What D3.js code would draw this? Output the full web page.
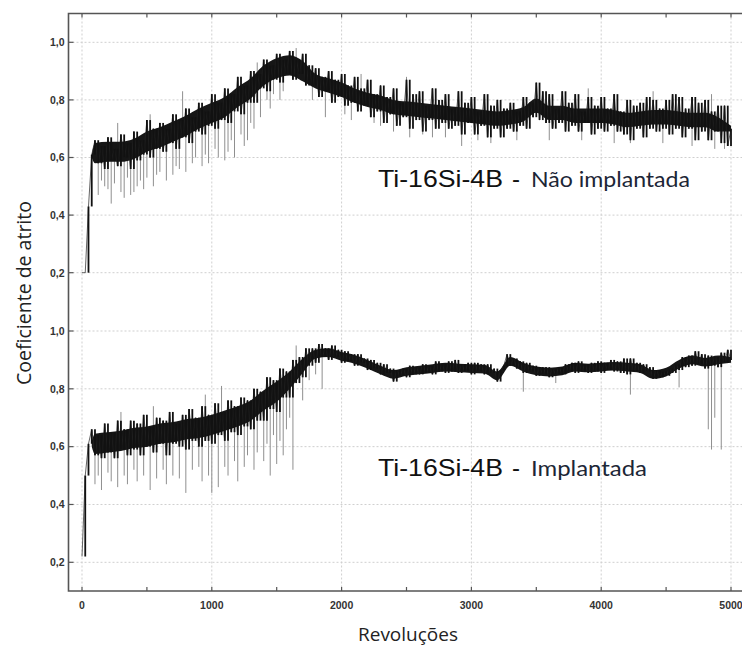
<!DOCTYPE html>
<html>
<head>
<meta charset="utf-8">
<script src="https://cdn.jsdelivr.net/npm/d3@7"></script>
<style>
  body { margin: 0; background: #fff; }
  .tick-label { font-family: 'Liberation Sans', Arial, sans-serif; font-weight: bold; font-size: 10.5px; fill: #333; }
</style>
</head>
<body>
<div id="chart"></div>
<script>

// trace sampled every 25 revolutions, 0..5000
var revStep = 25;

var naoImplantada = [
  0.20, 0.20, 0.43, 0.61, 0.66, 0.58, 0.64, 0.56,
  0.67, 0.59, 0.63, 0.57, 0.68, 0.60, 0.65, 0.56,
  0.69, 0.59, 0.66, 0.61, 0.73, 0.60, 0.70, 0.63,
  0.72, 0.62, 0.70, 0.65, 0.75, 0.63, 0.73, 0.67,
  0.77, 0.65, 0.74, 0.69, 0.79, 0.68, 0.76, 0.71,
  0.82, 0.70, 0.79, 0.73, 0.84, 0.72, 0.82, 0.76,
  0.88, 0.75, 0.85, 0.79, 0.90, 0.79, 0.89, 0.84,
  0.94, 0.83, 0.92, 0.87, 0.96, 0.86, 0.94, 0.89,
  0.97, 0.87, 0.94, 0.89, 0.96, 0.85, 0.92, 0.85,
  0.91, 0.81, 0.88, 0.83, 0.90, 0.79, 0.87, 0.81,
  0.89, 0.78, 0.85, 0.79, 0.88, 0.76, 0.84, 0.78,
  0.87, 0.74, 0.82, 0.76, 0.85, 0.72, 0.81, 0.75,
  0.84, 0.71, 0.79, 0.74, 0.87, 0.70, 0.82, 0.73,
  0.83, 0.69, 0.78, 0.73, 0.84, 0.70, 0.80, 0.72,
  0.82, 0.70, 0.77, 0.71, 0.83, 0.68, 0.79, 0.72,
  0.81, 0.68, 0.76, 0.71, 0.82, 0.67, 0.78, 0.70,
  0.80, 0.67, 0.77, 0.70, 0.79, 0.69, 0.76, 0.71,
  0.81, 0.70, 0.79, 0.74, 0.86, 0.73, 0.83, 0.72,
  0.82, 0.70, 0.77, 0.72, 0.83, 0.69, 0.79, 0.71,
  0.82, 0.69, 0.76, 0.72, 0.81, 0.68, 0.78, 0.70,
  0.81, 0.69, 0.77, 0.71, 0.82, 0.69, 0.76, 0.68,
  0.80, 0.66, 0.78, 0.70, 0.79, 0.67, 0.81, 0.70,
  0.80, 0.69, 0.77, 0.70, 0.80, 0.68, 0.82, 0.70,
  0.81, 0.67, 0.77, 0.70, 0.81, 0.66, 0.79, 0.69,
  0.80, 0.66, 0.76, 0.69, 0.78, 0.65, 0.78, 0.64,
  0.70
];

var implantada = [
  0.22, 0.50, 0.61, 0.66, 0.57, 0.64, 0.56, 0.68,
  0.58, 0.65, 0.56, 0.69, 0.59, 0.66, 0.57, 0.69,
  0.59, 0.68, 0.57, 0.71, 0.60, 0.67, 0.58, 0.70,
  0.61, 0.69, 0.57, 0.72, 0.61, 0.68, 0.60, 0.71,
  0.59, 0.73, 0.62, 0.70, 0.60, 0.74, 0.62, 0.71,
  0.61, 0.75, 0.64, 0.72, 0.62, 0.76, 0.65, 0.74,
  0.64, 0.77, 0.67, 0.76, 0.66, 0.80, 0.69, 0.79,
  0.69, 0.84, 0.73, 0.83, 0.72, 0.87, 0.77, 0.86,
  0.77, 0.90, 0.82, 0.91, 0.84, 0.94, 0.88, 0.94,
  0.89, 0.955, 0.91, 0.94, 0.90, 0.95, 0.91, 0.935,
  0.89, 0.93, 0.895, 0.92, 0.88, 0.92, 0.89, 0.905,
  0.865, 0.90, 0.87, 0.89, 0.85, 0.885, 0.855, 0.87,
  0.825, 0.865, 0.845, 0.87, 0.84, 0.88, 0.85, 0.875,
  0.85, 0.885, 0.855, 0.88, 0.85, 0.895, 0.86, 0.885,
  0.855, 0.895, 0.86, 0.90, 0.855, 0.885, 0.86, 0.89,
  0.85, 0.89, 0.86, 0.885, 0.85, 0.885, 0.855, 0.87,
  0.825, 0.865, 0.88, 0.92, 0.88, 0.905, 0.87, 0.895,
  0.855, 0.89, 0.86, 0.88, 0.845, 0.875, 0.85, 0.875,
  0.84, 0.87, 0.85, 0.875, 0.85, 0.885, 0.86, 0.89,
  0.855, 0.895, 0.86, 0.885, 0.855, 0.89, 0.86, 0.895,
  0.855, 0.89, 0.865, 0.90, 0.86, 0.895, 0.855, 0.905,
  0.85, 0.905, 0.86, 0.89, 0.855, 0.885, 0.86, 0.875,
  0.835, 0.865, 0.84, 0.86, 0.845, 0.87, 0.855, 0.885,
  0.865, 0.91, 0.875, 0.915, 0.88, 0.93, 0.885, 0.92,
  0.87, 0.915, 0.88, 0.91, 0.875, 0.925, 0.89, 0.935,
  0.90
];

// dense dark core of the trace, every 100 revolutions (first point at 75)
var bandRevs = [75, 100, 200, 300, 400, 500, 600, 700, 800, 900, 1000,
  1100, 1200, 1300, 1400, 1500, 1600, 1700, 1800, 1900, 2000,
  2100, 2200, 2300, 2400, 2500, 2600, 2700, 2800, 2900, 3000,
  3100, 3200, 3300, 3400, 3500, 3600, 3700, 3800, 3900, 4000,
  4100, 4200, 4300, 4400, 4500, 4600, 4700, 4800, 4900, 5000];

var naoBandHi = [0.61, 0.65, 0.655, 0.655, 0.665, 0.69, 0.705, 0.725, 0.745, 0.77, 0.79,
  0.81, 0.845, 0.875, 0.92, 0.945, 0.955, 0.935, 0.89, 0.875, 0.86,
  0.84, 0.825, 0.815, 0.80, 0.795, 0.79, 0.785, 0.78, 0.775, 0.77,
  0.765, 0.76, 0.765, 0.775, 0.805, 0.78, 0.78, 0.77, 0.77, 0.77,
  0.765, 0.755, 0.76, 0.765, 0.765, 0.76, 0.755, 0.755, 0.74, 0.71];
var naoBandLo = [0.60, 0.58, 0.585, 0.585, 0.595, 0.62, 0.635, 0.655, 0.675, 0.70, 0.72,
  0.74, 0.775, 0.805, 0.85, 0.875, 0.885, 0.865, 0.84, 0.825, 0.81,
  0.79, 0.775, 0.765, 0.75, 0.745, 0.74, 0.735, 0.73, 0.725, 0.72,
  0.715, 0.71, 0.715, 0.725, 0.755, 0.73, 0.73, 0.72, 0.72, 0.72,
  0.715, 0.705, 0.71, 0.715, 0.715, 0.71, 0.705, 0.705, 0.69, 0.69];

var impBandHi = [0.62, 0.645, 0.65, 0.655, 0.665, 0.67, 0.68, 0.685, 0.695, 0.70, 0.71,
  0.725, 0.74, 0.76, 0.795, 0.825, 0.86, 0.905, 0.935, 0.94, 0.927,
  0.917, 0.90, 0.88, 0.865, 0.875, 0.88, 0.885, 0.89, 0.887, 0.885,
  0.883, 0.86, 0.91, 0.89, 0.877, 0.873, 0.877, 0.89, 0.887, 0.89,
  0.893, 0.89, 0.885, 0.865, 0.873, 0.90, 0.915, 0.907, 0.915, 0.91];
var impBandLo = [0.60, 0.575, 0.58, 0.585, 0.595, 0.60, 0.61, 0.615, 0.625, 0.63, 0.64,
  0.655, 0.67, 0.69, 0.725, 0.755, 0.80, 0.855, 0.905, 0.91, 0.897,
  0.887, 0.87, 0.85, 0.835, 0.845, 0.85, 0.855, 0.86, 0.857, 0.855,
  0.853, 0.83, 0.88, 0.86, 0.847, 0.843, 0.847, 0.86, 0.857, 0.86,
  0.863, 0.86, 0.855, 0.835, 0.843, 0.87, 0.885, 0.877, 0.885, 0.89];

// thin grey excursions [revolution, coefficient]
var naoSpikes = [
  [125, 0.47], [175, 0.50], [225, 0.44], [300, 0.48], [325, 0.46], [375, 0.47], [425, 0.50],
  [475, 0.49], [550, 0.50], [600, 0.55], [700, 0.54], [750, 0.56], [850, 0.58], [925, 0.57],
  [975, 0.58], [1050, 0.60], [1125, 0.62], [1175, 0.60], [1275, 0.66], [1325, 0.70],
  [1375, 0.74], [1450, 0.77], [1525, 0.80], [1875, 0.74], [2075, 0.73], [2300, 0.71],
  [2525, 0.67], [2700, 0.67], [2925, 0.64], [3150, 0.65], [3600, 0.66], [4225, 0.65],
  [4700, 0.64], [4950, 0.63],
  [150, 0.52], [200, 0.49], [250, 0.51], [350, 0.53], [400, 0.48], [450, 0.52], [500, 0.53],
  [575, 0.54], [650, 0.52], [725, 0.57], [800, 0.55], [875, 0.60], [950, 0.61], [1025, 0.63],
  [1100, 0.59], [1150, 0.66], [1225, 0.68], [1250, 0.64], [1300, 0.72], [1425, 0.80],
  [1475, 0.82], [1550, 0.83], [1775, 0.80], [2025, 0.75], [2250, 0.72], [2400, 0.69],
  [2625, 0.68], [2800, 0.67], [3050, 0.66], [3350, 0.66], [3850, 0.66], [4100, 0.65],
  [4475, 0.65], [4875, 0.63],
  [275, 0.72], [525, 0.75], [775, 0.83], [1200, 0.88], [1350, 0.93], [1650, 0.98],
  [2150, 0.89], [2500, 0.88], [3500, 0.86], [3900, 0.84], [4400, 0.83], [4850, 0.82]
];

var impSpikes = [
  [100, 0.47], [150, 0.45], [225, 0.48], [275, 0.46], [350, 0.47], [425, 0.48], [525, 0.45],
  [575, 0.49], [650, 0.47], [700, 0.50], [800, 0.44], [850, 0.52], [925, 0.48], [1000, 0.44],
  [1050, 0.46], [1125, 0.50], [1200, 0.48], [1250, 0.53], [1325, 0.52], [1400, 0.55],
  [1450, 0.50], [1500, 0.54], [1550, 0.57], [1625, 0.52], [1700, 0.76], [1850, 0.80],
  [3400, 0.79], [3650, 0.82], [4225, 0.78], [4600, 0.805], [4825, 0.66], [4850, 0.59],
  [4875, 0.70], [4925, 0.59],
  [125, 0.50], [200, 0.51], [325, 0.50], [400, 0.52], [475, 0.50], [625, 0.52], [750, 0.49],
  [900, 0.53], [975, 0.50], [1100, 0.53], [1175, 0.55], [1275, 0.57], [1350, 0.58],
  [1425, 0.61], [1475, 0.64], [1525, 0.62], [1575, 0.66], [1600, 0.70], [1750, 0.83],
  [1800, 0.85],
  [300, 0.72], [550, 0.74], [950, 0.78], [1075, 0.81], [1650, 0.95]
];

var yTicks = [0.2, 0.4, 0.6, 0.8, 1.0];
var xTicks = [0, 1000, 2000, 3000, 4000, 5000];
var xMinorTicks = [0, 500, 1000, 1500, 2000, 2500, 3000, 3500, 4000, 4500, 5000];

var width = 742, height = 650;
var frameLeft = 68.5, frameTop = 13.5, frameBottom = 591;

var svg = d3.select('#chart').append('svg')
  .attr('width', width)
  .attr('height', height);

var x = d3.scaleLinear().domain([0, 5000]).range([82, 731]);

var panels = [
  { data: naoImplantada, hi: naoBandHi, lo: naoBandLo, spikes: naoSpikes,
    y: d3.scaleLinear().domain([0.2, 1.0]).range([272.7, 42.3]),
    label: 'Não implantada', labelY: 187, subLen: 159 },
  { data: implantada, hi: impBandHi, lo: impBandLo, spikes: impSpikes,
    y: d3.scaleLinear().domain([0.2, 1.0]).range([562.3, 331]),
    label: 'Implantada', labelY: 475.5, subLen: 116 }
];

// grid
var grid = svg.append('g');
xTicks.forEach(function(t) {
  grid.append('line')
    .attr('x1', x(t)).attr('x2', x(t))
    .attr('y1', frameTop).attr('y2', frameBottom)
    .style('stroke', '#cfcfcf').style('stroke-width', 1).style('stroke-dasharray', '2,2');
});
panels.forEach(function(p) {
  yTicks.forEach(function(t) {
    grid.append('line')
      .attr('x1', frameLeft).attr('x2', width)
      .attr('y1', p.y(t)).attr('y2', p.y(t))
      .style('stroke', '#cfcfcf').style('stroke-width', 1).style('stroke-dasharray', '2,2');
  });
});

// curves
panels.forEach(function(p) {
  var g = svg.append('g');

  g.selectAll('.spike')
    .data(p.spikes)
    .enter().append('line')
      .attr('class', 'spike')
      .attr('x1', function(d) { return x(d[0]); })
      .attr('x2', function(d) { return x(d[0]); })
      .attr('y1', function(d) { return p.y(p.data[Math.round(d[0] / revStep)]); })
      .attr('y2', function(d) { return p.y(d[1]); })
      .style('stroke', '#8f8f8f')
      .style('stroke-width', 1);

  var band = d3.area()
    .x(function(d, i) { return x(bandRevs[i]); })
    .y0(function(d, i) { return p.y(p.lo[i]); })
    .y1(function(d) { return p.y(d); })
    .curve(d3.curveMonotoneX);

  g.append('path')
    .datum(p.hi)
    .attr('d', band)
    .style('fill', '#161616');

  var line = d3.line()
    .x(function(d, i) { return x(i * revStep); })
    .y(function(d) { return p.y(d); });

  g.append('path')
    .datum(p.data)
    .attr('d', line)
    .style('fill', 'none')
    .style('stroke', '#222')
    .style('stroke-width', 0.7);

  // each swing of the trace as a vertical streak
  g.selectAll('.streak')
    .data(p.data.slice(1))
    .enter().append('line')
      .attr('class', 'streak')
      .attr('x1', function(d, i) { return x((i + 1) * revStep); })
      .attr('x2', function(d, i) { return x((i + 1) * revStep); })
      .attr('y1', function(d, i) { return p.y(p.data[i]); })
      .attr('y2', function(d) { return p.y(d); })
      .style('stroke', '#111')
      .style('stroke-width', 1.8);

  // left ticks + labels
  yTicks.forEach(function(t) {
    svg.append('line')
      .attr('x1', frameLeft).attr('x2', frameLeft + 5)
      .attr('y1', p.y(t)).attr('y2', p.y(t))
      .style('stroke', '#555').style('stroke-width', 1.2);
    svg.append('text')
      .attr('class', 'tick-label')
      .attr('x', 64.5)
      .attr('y', p.y(t) + 3.8)
      .attr('text-anchor', 'end')
      .text(d3.format('.1f')(t).replace('.', ','));
  });

  // annotation
  svg.append('text')
    .attr('x', 378).attr('y', p.labelY)
    .attr('textLength', 125).attr('lengthAdjust', 'spacingAndGlyphs')
    .style('font-family', '"Liberation Sans", Arial, sans-serif')
    .style('font-size', '24px')
    .style('fill', '#111')
    .text('Ti-16Si-4B');
  svg.append('text')
    .attr('x', 512).attr('y', p.labelY)
    .style('font-family', '"Liberation Sans", Arial, sans-serif')
    .style('font-size', '24px')
    .style('fill', '#111')
    .text('-');
  svg.append('text')
    .attr('x', 531).attr('y', p.labelY)
    .attr('textLength', p.subLen).attr('lengthAdjust', 'spacingAndGlyphs')
    .style('font-family', 'Lato, "Open Sans", sans-serif')
    .style('font-size', '21px')
    .style('fill', '#1c2636')
    .text(p.label);
});

// frame
svg.append('path')
  .attr('d', 'M' + width + ',' + frameTop + 'H' + frameLeft + 'V' + frameBottom + 'H' + width)
  .style('fill', 'none').style('stroke', '#555').style('stroke-width', 1.6);

// top and bottom minor ticks
xMinorTicks.forEach(function(t) {
  svg.append('line')
    .attr('x1', x(t)).attr('x2', x(t))
    .attr('y1', frameTop).attr('y2', frameTop + 4)
    .style('stroke', '#555').style('stroke-width', 1.2);
  svg.append('line')
    .attr('x1', x(t)).attr('x2', x(t))
    .attr('y1', frameBottom).attr('y2', frameBottom - 4)
    .style('stroke', '#555').style('stroke-width', 1.2);
});

// x labels
xTicks.forEach(function(t) {
  svg.append('text')
    .attr('class', 'tick-label')
    .attr('x', x(t)).attr('y', 609)
    .attr('text-anchor', 'middle')
    .text(t);
});

// axis titles
svg.append('text')
  .attr('x', 408).attr('y', 641)
  .attr('text-anchor', 'middle')
  .style('font-family', '"Open Sans", "Noto Sans", sans-serif')
  .style('font-size', '19px')
  .style('fill', '#222')
  .text('Revoluções');

svg.append('text')
  .attr('transform', 'translate(31,293) rotate(-90)')
  .attr('text-anchor', 'middle')
  .style('font-family', '"Open Sans", "Noto Sans", sans-serif')
  .style('font-size', '19.5px')
  .style('fill', '#222')
  .text('Coeficiente de atrito');

</script>
</body>
</html>
